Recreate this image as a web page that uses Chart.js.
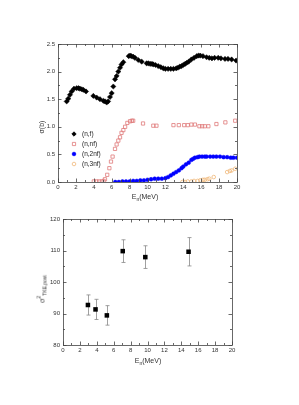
<!DOCTYPE html>
<html><head><meta charset="utf-8">
<script src="https://cdn.jsdelivr.net/npm/chart.js@4/dist/chart.umd.min.js"></script>
<style>
html,body{margin:0;padding:0;background:#fff;width:299px;height:405px;overflow:hidden;font-family:"Liberation Sans",Arial,sans-serif;}
canvas{position:absolute;left:0;}
#c1{top:0;}
#c2{top:205px;}
.t{position:absolute;font-size:7px;color:#333;white-space:nowrap;line-height:1;}
.t sub{font-size:5px;vertical-align:-2px;}
.t sup{font-size:5px;vertical-align:4px;}
.rot{transform:translate(-50%,-50%) rotate(-90deg);}
.ctr{transform:translate(-50%,-50%);}
</style></head><body>
<canvas id="c1" width="299" height="205"></canvas>
<canvas id="c2" width="299" height="200"></canvas>
<div class="t ctr" style="left:145px;top:197px;">E<sub>n</sub>(MeV)</div>
<div class="t rot" style="left:41px;top:127px;">σ(b)</div>
<div class="t ctr" style="left:148px;top:361px;">E<sub>n</sub>(MeV)</div>
<div class="t rot" style="left:42px;top:289px;">σ<sup>2</sup><sub>TKE,post</sub></div>
<script>
// ---- top chart data ----
const nfE = [0.97,1.15,1.34,1.53,1.79,2.09,2.30,2.46,2.65,2.83,3.13,3.95,4.32,4.69,5.07,5.25,5.44,5.6,5.81,6.0,6.18,6.37,6.55,6.74,6.93,7.1,7.3,7.9,8.05,8.2,8.4,8.6,8.97,9.35,9.9,10.1,10.3,10.5,10.65,10.9,11.2,11.5,11.77,12.0,12.3,12.6,12.9,13.2,13.4,13.6,13.8,14.0,14.2,14.4,14.6,14.9,15.2,15.5,15.7,15.9,16.2,16.6,16.9,17.2,17.5,17.9,18.2,18.66,19.0,19.4,19.9];
const nfS = [1.46,1.51,1.58,1.64,1.69,1.70,1.70,1.69,1.68,1.67,1.64,1.56,1.53,1.50,1.47,1.46,1.44,1.46,1.54,1.61,1.73,1.86,1.92,2.00,2.07,2.13,2.17,2.28,2.29,2.28,2.27,2.25,2.21,2.18,2.15,2.15,2.14,2.14,2.13,2.12,2.10,2.08,2.06,2.05,2.05,2.05,2.05,2.06,2.07,2.09,2.10,2.12,2.14,2.16,2.18,2.22,2.25,2.28,2.29,2.29,2.28,2.26,2.25,2.24,2.25,2.25,2.24,2.23,2.23,2.22,2.20];
const nnfE = [4.0,4.3,4.6,4.9,5.1,5.25,5.5,5.74,5.92,6.1,6.37,6.55,6.74,6.93,7.1,7.3,7.5,7.75,8.05,8.25,8.4,9.5,10.65,11.0,12.9,13.5,14.1,14.5,14.9,15.3,15.8,16.1,16.4,16.8,17.7,18.7,19.8];
const nnfS = [0.01,0.01,0.01,0.01,0.02,0.05,0.13,0.25,0.37,0.46,0.60,0.68,0.75,0.81,0.89,0.94,1.00,1.07,1.10,1.11,1.11,1.06,1.02,1.02,1.03,1.03,1.03,1.03,1.04,1.04,1.01,1.01,1.01,1.01,1.05,1.08,1.11];
const n2nfE = [6.4,6.8,7.2,7.6,8.0,8.4,8.8,9.2,9.6,10.0,10.4,10.8,11.2,11.6,12.0,12.3,12.6,12.9,13.2,13.5,13.8,14.0,14.3,14.6,14.9,15.1,15.3,15.6,15.8,16.1,16.4,16.6,17.0,17.35,17.7,18.1,18.5,18.9,19.3,19.6,20.0];
const n2nfS = [0.0,0.0,0.01,0.01,0.01,0.02,0.02,0.03,0.03,0.04,0.05,0.06,0.06,0.06,0.07,0.09,0.12,0.15,0.18,0.21,0.25,0.28,0.32,0.35,0.40,0.42,0.44,0.45,0.46,0.46,0.46,0.46,0.46,0.46,0.46,0.46,0.45,0.45,0.44,0.44,0.44];
const n3nfE = [13.9,14.2,14.5,14.9,15.2,15.6,15.9,16.2,16.4,16.7,16.9,17.4,18.9,19.2,19.4,19.8];
const n3nfS = [0.0,0.0,0.01,0.01,0.02,0.02,0.03,0.04,0.04,0.05,0.06,0.09,0.18,0.20,0.21,0.24];
const topLabels = ['(n,f)','(n,nf)','(n,2nf)','(n,3nf)'];
// ---- bottom chart data ----
const tkeE = [2.95,3.85,5.19,7.07,9.74,14.86];
const tkeV = [92.7,91.3,89.4,109.8,107.9,109.6];
const tkeErr = [3.2,3.2,3.1,3.6,3.6,4.5];

const pts = (xs, ys) => xs.map((x,i)=>({x, y: ys[i]}));

const frameTicks = {
  id:'frameTicks',
  afterDatasetsDraw(chart, args, o){
    const {ctx, chartArea:a, scales:{x,y}} = chart;
    ctx.save();
    ctx.strokeStyle='#444'; ctx.lineWidth=0.8;
    ctx.strokeRect(Math.round(a.left)+0.5, Math.round(a.top)+0.5, Math.round(a.right-a.left), Math.round(a.bottom-a.top));
    const seg=(x1,y1,x2,y2)=>{ctx.beginPath();ctx.moveTo(x1,y1);ctx.lineTo(x2,y2);ctx.stroke();};
    const isMaj=(v,m)=>Math.abs(v/m-Math.round(v/m))<1e-6;
    const nx = Math.round((x.max-x.min)/o.xMinor);
    for(let i=0;i<=nx;i++){
      const v=x.min+i*o.xMinor; const len=isMaj(v,o.xMajor)?3.5:2;
      const p=Math.round(x.getPixelForValue(v))+0.5;
      seg(p,a.bottom,p,a.bottom-len); seg(p,a.top,p,a.top+len);
    }
    const ny = Math.round((y.max-y.min)/o.yMinor);
    for(let i=0;i<=ny;i++){
      const v=y.min+i*o.yMinor; const len=isMaj(v-y.min,o.yMajor)?3.5:2;
      const p=Math.round(y.getPixelForValue(v))+0.5;
      seg(a.left,p,a.left+len,p); seg(a.right,p,a.right-len,p);
    }
    ctx.restore();
  }
};

const legendPlug = {
  id:'legendPlug',
  afterDraw(chart){
    const {ctx, chartArea:a} = chart;
    ctx.save();
    ctx.font='6.5px "Liberation Sans", Arial, sans-serif';
    ctx.textBaseline='middle'; ctx.fillStyle='#222';
    const sx=a.left+16, tx=a.left+24;
    chart.data.datasets.forEach((d,i)=>{
      const yy=a.top+90+i*10;
      ctx.lineWidth=0.8;
      ctx.strokeStyle=d.borderColor; ctx.fillStyle=d.backgroundColor;
      ctx.beginPath();
      if(d.pointStyle==='rect'){ctx.rect(sx-1.6,yy-1.6,3.2,3.2);}
      else if(d.pointStyle==='rectRot'){ctx.moveTo(sx,yy-2.2);ctx.lineTo(sx+2.2,yy);ctx.lineTo(sx,yy+2.2);ctx.lineTo(sx-2.2,yy);ctx.closePath();}
      else {ctx.arc(sx,yy,1.8,0,Math.PI*2);}
      ctx.fill(); ctx.stroke();
      ctx.fillStyle='#222';
      ctx.fillText(topLabels[i], tx, yy);
    });
    ctx.restore();
  }
};

const errPlug = {
  id:'errPlug',
  beforeDatasetsDraw(chart){
    const {ctx, scales:{x,y}} = chart;
    ctx.save(); ctx.strokeStyle='#888'; ctx.lineWidth=0.8;
    tkeE.forEach((e,i)=>{
      const px=Math.round(x.getPixelForValue(e))+0.5;
      const y1=y.getPixelForValue(tkeV[i]+tkeErr[i]);
      const y2=y.getPixelForValue(tkeV[i]-tkeErr[i]);
      ctx.beginPath();
      ctx.moveTo(px,y1);ctx.lineTo(px,y2);
      ctx.moveTo(px-2,y1);ctx.lineTo(px+2,y1);
      ctx.moveTo(px-2,y2);ctx.lineTo(px+2,y2);
      ctx.stroke();
    });
    ctx.restore();
  }
};

const tickFont = {size:6, family:'"Liberation Sans", Arial, sans-serif'};
function axes(xmin,xmax,xstep,ymin,ymax,ystep,yfmt,yw){
  return {
    x:{type:'linear',min:xmin,max:xmax,
       grid:{display:false,drawTicks:false},border:{display:false},
       ticks:{stepSize:xstep,font:tickFont,color:'#333',padding:2,maxRotation:0,autoSkip:false},
       afterFit(s){s.height=16;}},
    y:{type:'linear',min:ymin,max:ymax,
       grid:{display:false,drawTicks:false},border:{display:false},
       ticks:{stepSize:ystep,font:tickFont,color:'#333',padding:3,callback:yfmt},
       afterFit(s){s.width=yw;}}
  };
}

new Chart(document.getElementById('c1'),{
  type:'scatter',
  data:{datasets:[
    {label:topLabels[0],data:pts(nfE,nfS),pointStyle:'rectRot',pointRadius:2.6,backgroundColor:'#000',borderColor:'#000',borderWidth:0.5},
    {label:topLabels[1],data:pts(nnfE,nnfS),pointStyle:'rect',pointRadius:2.3,backgroundColor:'rgba(0,0,0,0)',borderColor:'#e07a7a',borderWidth:0.8},
    {label:topLabels[2],data:pts(n2nfE,n2nfS),pointStyle:'circle',pointRadius:1.9,backgroundColor:'#0000ff',borderColor:'#0000ff',borderWidth:0.5},
    {label:topLabels[3],data:pts(n3nfE,n3nfS),pointStyle:'circle',pointRadius:1.8,backgroundColor:'rgba(0,0,0,0)',borderColor:'#f0b878',borderWidth:0.8}
  ]},
  options:{responsive:false,animation:false,
    layout:{padding:{left:40,right:62,top:44,bottom:7}},
    plugins:{legend:{display:false},tooltip:{enabled:false},frameTicks:{xMinor:1,xMajor:2,yMinor:0.25,yMajor:0.5}},
    scales:axes(0,20,2,0,2.5,0.5,v=>v.toFixed(1),18)},
  plugins:[frameTicks,legendPlug]
});

new Chart(document.getElementById('c2'),{
  type:'scatter',
  data:{datasets:[
    {label:'TKE',data:pts(tkeE,tkeV),pointStyle:'rect',pointRadius:3.2,backgroundColor:'#000',borderColor:'#000',borderWidth:0}
  ]},
  options:{responsive:false,animation:false,
    layout:{padding:{left:45,right:67,top:14,bottom:44}},
    plugins:{legend:{display:false},tooltip:{enabled:false},frameTicks:{xMinor:1,xMajor:2,yMinor:5,yMajor:10}},
    scales:axes(0,20,2,80,120,10,v=>String(v),18)},
  plugins:[frameTicks,errPlug]
});
</script>
</body></html>
